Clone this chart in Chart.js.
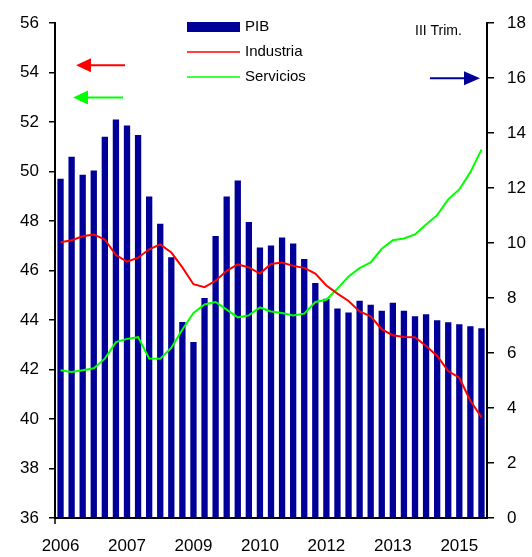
<!DOCTYPE html>
<html>
<head>
<meta charset="utf-8">
<script src="https://cdn.jsdelivr.net/npm/chart.js@4.4.0/dist/chart.umd.min.js"></script>
<style>
  body { margin: 0; background: #fff; }
  #wrap { width: 532px; height: 557px; }
</style>
</head>
<body>
<div id="wrap"><canvas id="myChart"></canvas></div>
<script>
const quarters = [
  '2006 I', '2006 II', '2006 III', '2006 IV',
  '2007 I', '2007 II', '2007 III', '2007 IV',
  '2008 I', '2008 II', '2008 III', '2008 IV',
  '2009 I', '2009 II', '2009 III', '2009 IV',
  '2010 I', '2010 II', '2010 III', '2010 IV',
  '2011 I', '2011 II', '2011 III', '2011 IV',
  '2012 I', '2012 II', '2012 III', '2012 IV',
  '2013 I', '2013 II', '2013 III', '2013 IV',
  '2014 I', '2014 II', '2014 III', '2014 IV',
  '2015 I', '2015 II', '2015 III'
];
const yearTicks = ['2006', '2007', '2009', '2010', '2012', '2013', '2015'];

// PIB (eje derecho)
const pib = [12.34, 13.14, 12.49, 12.64, 13.87, 14.50, 14.28, 13.93, 11.70, 10.70,
  9.49, 7.13, 6.40, 8.00, 10.26, 11.70, 12.28, 10.77, 9.84, 9.91,
  10.20, 9.99, 9.42, 8.55, 7.98, 7.62, 7.48, 7.90, 7.76, 7.54,
  7.83, 7.54, 7.34, 7.41, 7.19, 7.12, 7.05, 6.98, 6.90];
// Industria y Servicios (eje izquierdo)
const industria = [47.15, 47.23, 47.39, 47.46, 47.26, 46.63, 46.36, 46.52, 46.86, 47.06,
  46.73, 46.13, 45.45, 45.33, 45.59, 45.99, 46.25, 46.13, 45.88, 46.27,
  46.33, 46.19, 46.11, 45.88, 45.40, 45.07, 44.77, 44.35, 44.15, 43.62,
  43.39, 43.32, 43.31, 42.95, 42.55, 41.94, 41.67, 40.74, 40.07];
const servicios = [41.97, 41.90, 41.97, 42.05, 42.44, 43.11, 43.24, 43.31, 42.45, 42.44,
  42.88, 43.62, 44.29, 44.63, 44.73, 44.42, 44.11, 44.19, 44.51, 44.35,
  44.29, 44.19, 44.26, 44.73, 44.82, 45.27, 45.76, 46.10, 46.33, 46.88,
  47.23, 47.30, 47.46, 47.86, 48.24, 48.88, 49.28, 49.98, 50.89];

Chart.defaults.font.family = '"Liberation Sans", Arial, sans-serif';
Chart.defaults.color = '#000';

function arrow(ctx, x1, x2, y, color, toLeft) {
  ctx.save();
  ctx.strokeStyle = color;
  ctx.fillStyle = color;
  ctx.lineWidth = 2;
  ctx.beginPath();
  if (toLeft) {
    ctx.moveTo(x1 + 14, y); ctx.lineTo(x2, y);
  } else {
    ctx.moveTo(x1, y); ctx.lineTo(x2 - 14, y);
  }
  ctx.stroke();
  ctx.beginPath();
  if (toLeft) {
    ctx.moveTo(x1, y); ctx.lineTo(x1 + 15, y - 7); ctx.lineTo(x1 + 15, y + 7);
  } else {
    ctx.moveTo(x2, y); ctx.lineTo(x2 - 16, y - 7); ctx.lineTo(x2 - 16, y + 7);
  }
  ctx.closePath();
  ctx.fill();
  ctx.restore();
}

const extras = {
  id: 'extras',
  afterDraw(chart) {
    const ctx = chart.ctx;
    const a = chart.chartArea;
    const yL = chart.scales.y;
    const yR = chart.scales.y1;

    // small tick below the origin
    ctx.save();
    ctx.strokeStyle = '#000';
    ctx.lineWidth = 1.5;
    ctx.beginPath();
    ctx.moveTo(a.left, a.bottom);
    ctx.lineTo(a.left, a.bottom + 6);
    ctx.stroke();

    // legend
    ctx.fillStyle = '#000099';
    ctx.fillRect(187, 22, 53, 10);
    ctx.lineWidth = 1.5;
    ctx.strokeStyle = '#ff0000';
    ctx.beginPath(); ctx.moveTo(187, 52); ctx.lineTo(240, 52); ctx.stroke();
    ctx.strokeStyle = '#00ff00';
    ctx.beginPath(); ctx.moveTo(187, 77); ctx.lineTo(240, 77); ctx.stroke();
    ctx.fillStyle = '#000';
    ctx.font = '15px "Liberation Sans", Arial, sans-serif';
    ctx.textBaseline = 'middle';
    ctx.textAlign = 'left';
    ctx.fillText('PIB', 245, 27);
    ctx.fillText('Industria', 245, 52);
    ctx.fillText('Servicios', 245, 77);
    ctx.font = '14px "Liberation Sans", Arial, sans-serif';
    ctx.fillText('III Trim.', 415, 31);
    ctx.restore();

    arrow(ctx, a.left + 21, a.left + 70, yL.getPixelForValue(54.3), '#ff0000', true);
    arrow(ctx, a.left + 18, a.left + 68, yL.getPixelForValue(53.0), '#00ff00', true);
    arrow(ctx, a.right - 57, a.right - 7, yR.getPixelForValue(16.0), '#000099', false);
  }
};

const ctx = document.getElementById('myChart').getContext('2d');

new Chart(ctx, {
  data: {
    labels: quarters,
    datasets: [
      {
        type: 'line',
        label: 'Industria',
        data: industria,
        borderColor: '#ff0000',
        borderWidth: 2,
        pointRadius: 0,
        tension: 0,
        yAxisID: 'y',
        order: 0
      },
      {
        type: 'line',
        label: 'Servicios',
        data: servicios,
        borderColor: '#00ff00',
        borderWidth: 2,
        pointRadius: 0,
        tension: 0,
        yAxisID: 'y',
        order: 1
      },
      {
        type: 'bar',
        label: 'PIB',
        data: pib,
        backgroundColor: '#000099',
        categoryPercentage: 1,
        barPercentage: 0.57,
        yAxisID: 'y1',
        order: 2
      }
    ]
  },
  options: {
    responsive: true,
    maintainAspectRatio: false,
    animation: false,
    layout: { padding: { top: 20, left: 0, right: 0, bottom: 0 } },
    plugins: {
      legend: { display: false },
      tooltip: { enabled: false }
    },
    scales: {
      x: {
        offset: true,
        grid: { display: false },
        border: { color: '#000', width: 2 },
        ticks: {
          autoSkip: false,
          maxRotation: 0,
          padding: 10,
          font: { size: 17 },
          callback: (v, i) => (i % 6 === 0 ? yearTicks[i / 6] : '')
        },
        afterFit: (s) => { s.height = 39; }
      },
      y: {
        position: 'left',
        min: 36,
        max: 56,
        grid: { drawOnChartArea: false, tickLength: 6, color: '#000', lineWidth: 1.5 },
        border: { color: '#000', width: 2 },
        ticks: { stepSize: 2, padding: 10, font: { size: 17 } },
        afterFit: (s) => { s.width = 55; }
      },
      y1: {
        position: 'right',
        min: 0,
        max: 18,
        grid: { drawOnChartArea: false, tickLength: 7, color: '#000', lineWidth: 1.5 },
        border: { color: '#000', width: 2 },
        ticks: { stepSize: 2, padding: 13, font: { size: 17 } },
        afterFit: (s) => { s.width = 45; }
      }
    }
  },
  plugins: [extras]
});
</script>
</body>
</html>
